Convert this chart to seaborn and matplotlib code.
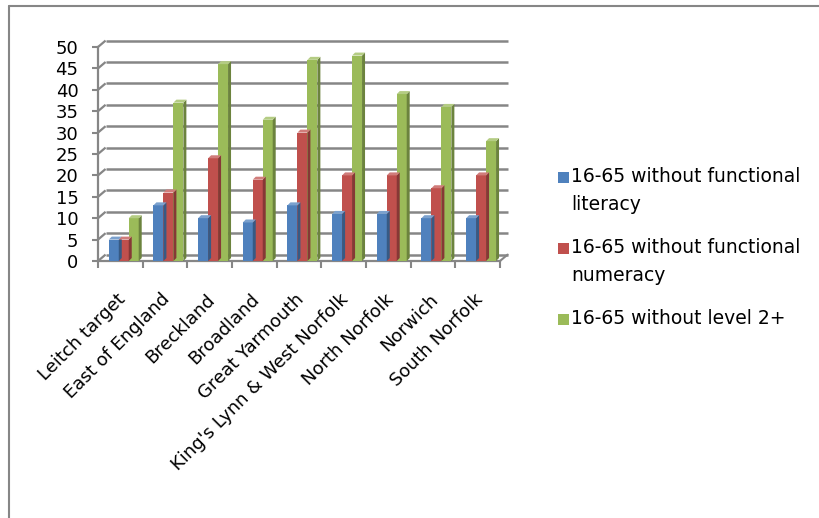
import numpy as np
import pandas as pd
import matplotlib
matplotlib.use("Agg")
import matplotlib.pyplot as plt
from matplotlib.lines import Line2D
from matplotlib.patches import Polygon, Rectangle
from matplotlib.colors import to_rgb
from matplotlib.transforms import ScaledTranslation
import seaborn as sns

# ---- data -------------------------------------------------------------
regions = ["Leitch target", "East of England", "Breckland", "Broadland",
           "Great Yarmouth", "King's Lynn & West Norfolk", "North Norfolk",
           "Norwich", "South Norfolk"]
series_names = ["16-65 without functional literacy",
                "16-65 without functional numeracy",
                "16-65 without level 2+"]
legend_labels = ["16-65 without functional\nliteracy",
                 "16-65 without functional\nnumeracy",
                 "16-65 without level 2+"]
literacy = [5, 13, 10, 9, 13, 11, 11, 10, 10]
numeracy = [5, 16, 24, 19, 30, 20, 20, 17, 20]
level2 = [10, 37, 46, 33, 47, 48, 39, 36, 28]
y_ticks = [0, 5, 10, 15, 20, 25, 30, 35, 40, 45, 50]

colors = ["#4F81BD", "#C0504D", "#9BBB59"]
grid_col = "#868686"

df = pd.DataFrame({
    "region": regions * 3,
    "series": [s for s in series_names for _ in regions],
    "value": literacy + numeracy + level2,
})

sns.set_theme(style="white")
plt.rcParams["font.family"] = ["DejaVu Sans"]

fig = plt.figure(figsize=(8.2, 5.18), dpi=100)
ax = fig.add_axes([98 / 820, 1 - 261 / 518, 402 / 820, 214 / 518])

sns.barplot(data=df, x="region", y="value", hue="series",
            hue_order=series_names, order=regions, palette=colors,
            width=0.67, saturation=1, legend=False, errorbar=None,
            edgecolor="none", linewidth=0, ax=ax, zorder=3)

ax.set_xlim(-0.5, len(regions) - 0.5)
ax.set_ylim(0, 50)

# depth of the back wall (in data units) for the pseudo-3D look
gx, gy = 0.17, 1.5
x_end = len(regions) - 0.5

# back-wall gridlines with short connectors to the front axis
for t in y_ticks:
    ax.plot([-0.5, -0.5 + gx], [t, t + gy], color=grid_col, lw=1.6,
            clip_on=False, zorder=1, solid_capstyle="butt")
    ax.plot([-0.5 + gx, x_end + gx], [t + gy, t + gy], color=grid_col,
            lw=1.8, clip_on=False, zorder=1, solid_capstyle="butt")
# right edge of the floor
ax.plot([x_end, x_end + gx], [0, gy], color=grid_col, lw=1.5,
        clip_on=False, zorder=1)

# columns sit mid-depth: nudge them back, then add side and top faces
bars = [p for p in ax.patches if isinstance(p, Rectangle) and p.get_height() > 0]
for p in bars:
    p.set_x(p.get_x() + gx * 0.45)
    x0, w, h = p.get_x(), p.get_width(), p.get_height()
    base = np.array(to_rgb(p.get_facecolor()))
    dark = base * 0.7
    light = base + (1 - base) * 0.25
    sx, sy = w * 0.3, 0.7
    ax.add_patch(Polygon([(x0 + w, 0), (x0 + w + sx, sy), (x0 + w + sx, h + sy),
                          (x0 + w, h)], closed=True, facecolor=dark,
                         edgecolor="none", zorder=3, clip_on=False))
    ax.add_patch(Polygon([(x0, h), (x0 + sx, h + sy), (x0 + w + sx, h + sy),
                          (x0 + w, h)], closed=True, facecolor=light,
                         edgecolor="none", zorder=3, clip_on=False))

# axes styling
for side in ["top", "right"]:
    ax.spines[side].set_visible(False)
for side in ["left", "bottom"]:
    ax.spines[side].set_color(grid_col)
    ax.spines[side].set_linewidth(1.6)
    ax.spines[side].set_zorder(2)

ax.set_yticks(y_ticks)
ax.set_yticklabels([str(t) for t in y_ticks], fontsize=13, color="black")
ax.tick_params(axis="y", direction="out", length=4, width=1.5,
               color=grid_col, pad=10, left=True)

ax.set_xticks(np.arange(len(regions)))
ax.set_xticks(np.arange(-0.5, len(regions)), minor=True)
ax.set_xticklabels(regions, rotation=45, ha="right", va="top",
                   rotation_mode="anchor", fontsize=13, color="black")
ax.tick_params(axis="x", which="major", length=0, pad=21)
ax.tick_params(axis="x", which="minor", direction="out", length=5,
               width=1.5, color=grid_col, bottom=True)
shift = ScaledTranslation(-4 / 100, 0, fig.dpi_scale_trans)
for lbl in ax.get_xticklabels():
    lbl.set_transform(lbl.get_transform() + shift)
ax.set_xlabel("")
ax.set_ylabel("")
ax.grid(False)
ax.set_facecolor("none")

# legend on the right
leg_x, leg_y0, leg_step = 558 / 820, 167 / 518, 71 / 518
for i, (lab, col) in enumerate(zip(legend_labels, colors)):
    ytop = 1 - leg_y0 - i * leg_step
    fig.add_artist(Rectangle((leg_x, ytop - 16 / 518), 11 / 820, 11 / 518,
                             transform=fig.transFigure, facecolor=col,
                             edgecolor="none"))
    fig.text(leg_x + 13 / 820, ytop, lab, ha="left", va="top",
             fontsize=13.5, color="black", linespacing=1.6)

# chart frame
fig.add_artist(Line2D([9 / 820, 9 / 820], [0, 1 - 6 / 518],
                      transform=fig.transFigure, color=grid_col, lw=1.5))
fig.add_artist(Line2D([9 / 820, 1], [1 - 6 / 518, 1 - 6 / 518],
                      transform=fig.transFigure, color=grid_col, lw=1.5))

fig.savefig("out.png", dpi=100, facecolor="white")
